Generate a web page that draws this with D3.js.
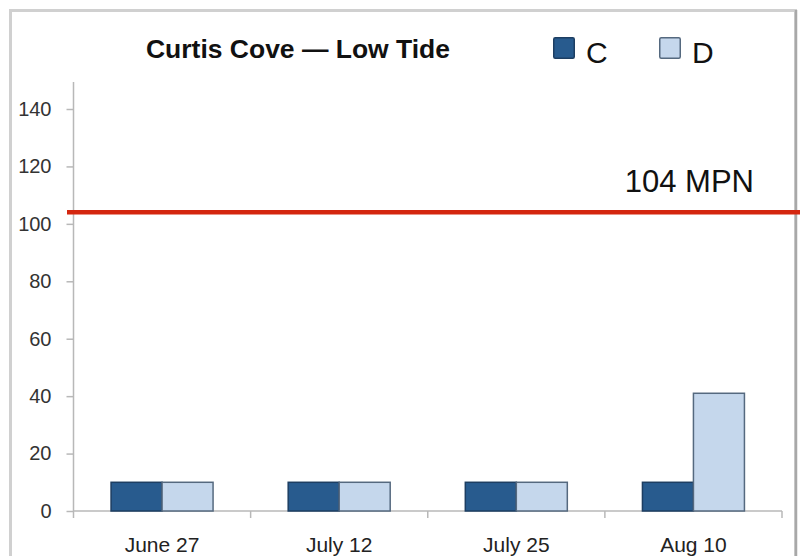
<!DOCTYPE html>
<html>
<head>
<meta charset="utf-8">
<script src="https://cdn.jsdelivr.net/npm/d3@7"></script>
<style>
  body { margin: 0; background: #fff; }
  svg { display: block; }
</style>
</head>
<body>
<script>
const dates = ["June 27", "July 12", "July 25", "Aug 10"];
const seriesNames = ["C", "D"];
const valuesC = [10, 10, 10, 10];
const valuesD = [10, 10, 10, 41];
const yTicks = [0, 20, 40, 60, 80, 100, 120, 140];
const threshold = 104;
const thresholdLabel = "104 MPN";
const title = "Curtis Cove \u2014 Low Tide";

const W = 800, H = 556;
const plot = { left: 73.5, right: 782, top: 82, bottom: 511 };

const fills = { C: "#285b8e", D: "#c5d7ec" };
const strokes = { C: "#1d3e62", D: "#55697f" };

const svg = d3.select("body").append("svg")
  .attr("width", W)
  .attr("height", H);

// chart frame
svg.append("rect")
  .attr("x", 10.5).attr("y", 10.5)
  .attr("width", 785).attr("height", 600)
  .attr("fill", "none")
  .attr("stroke", "#d0d0d0")
  .attr("stroke-width", 3);
svg.append("line")
  .attr("x1", 796).attr("x2", 796).attr("y1", 10).attr("y2", H)
  .attr("stroke", "#a8a8a8").attr("stroke-width", 2.5);

const x = d3.scaleBand()
  .domain(dates)
  .range([plot.left, plot.right]);

const groupW = 102;
const x1 = d3.scaleBand()
  .domain(seriesNames)
  .range([0, groupW]);

const y = d3.scaleLinear()
  .domain([0, 140])
  .range([plot.bottom, 109]);

// y axis
const yAxis = svg.append("g")
  .attr("transform", `translate(${plot.left},0)`)
  .call(d3.axisLeft(y).tickValues(yTicks).tickSize(7).tickPadding(15));
yAxis.select(".domain").remove();
yAxis.selectAll(".tick line").attr("stroke", "#b8b8b8").attr("stroke-width", 1.5);
yAxis.selectAll(".tick text")
  .attr("fill", "#333")
  .style("font-family", "'Liberation Sans', Arial, sans-serif")
  .style("font-size", "20px");
svg.append("line")
  .attr("x1", plot.left).attr("x2", plot.left)
  .attr("y1", plot.top).attr("y2", plot.bottom)
  .attr("stroke", "#b8b8b8").attr("stroke-width", 1.5);

// x axis line + boundary ticks
svg.append("line")
  .attr("x1", plot.left).attr("x2", plot.right)
  .attr("y1", plot.bottom).attr("y2", plot.bottom)
  .attr("stroke", "#b8b8b8").attr("stroke-width", 1.5);
const bounds = dates.map(d => x(d)).concat([x(dates[dates.length - 1]) + x.bandwidth()]);
svg.selectAll(".xtick")
  .data(bounds)
  .enter().append("line")
  .attr("x1", d => d).attr("x2", d => d)
  .attr("y1", plot.bottom).attr("y2", plot.bottom + 7)
  .attr("stroke", "#b8b8b8").attr("stroke-width", 1.5);

svg.selectAll(".xlabel")
  .data(dates)
  .enter().append("text")
  .attr("x", d => x(d) + x.bandwidth() / 2)
  .attr("y", 552)
  .attr("text-anchor", "middle")
  .attr("fill", "#222")
  .style("font-family", "'Liberation Sans', Arial, sans-serif")
  .style("font-size", "21px")
  .text(d => d);

// bars
const rows = dates.map((d, i) => ({ date: d, C: valuesC[i], D: valuesD[i] }));
const groups = svg.selectAll(".grp")
  .data(rows)
  .enter().append("g")
  .attr("transform", d => `translate(${x(d.date) + (x.bandwidth() - groupW) / 2},0)`);

groups.selectAll("rect")
  .data(d => seriesNames.map(k => ({ key: k, value: d[k] })))
  .enter().append("rect")
  .attr("x", d => x1(d.key))
  .attr("y", d => y(d.value))
  .attr("width", x1.bandwidth())
  .attr("height", d => y(0) - y(d.value))
  .attr("fill", d => fills[d.key])
  .attr("stroke", d => strokes[d.key])
  .attr("stroke-width", 1.5);

// threshold line
svg.append("line")
  .attr("x1", 67).attr("x2", W)
  .attr("y1", y(threshold)).attr("y2", y(threshold))
  .attr("stroke", "#d4260f")
  .attr("stroke-width", 4.5);
svg.append("text")
  .attr("x", 754).attr("y", 192)
  .attr("text-anchor", "end")
  .attr("fill", "#111")
  .style("font-family", "'Liberation Sans', Arial, sans-serif")
  .style("font-size", "31px")
  .text(thresholdLabel);

// title
svg.append("text")
  .attr("x", 146).attr("y", 58)
  .attr("textLength", 304)
  .attr("lengthAdjust", "spacingAndGlyphs")
  .attr("fill", "#111")
  .style("font-family", "'Liberation Sans Narrow', 'Liberation Sans', Arial, sans-serif")
  .style("font-weight", "bold")
  .style("font-size", "26px")
  .text(title);

// legend
const legendX = { C: 553, D: 659 };
const legend = svg.selectAll(".leg")
  .data(seriesNames)
  .enter().append("g")
  .attr("transform", d => `translate(${legendX[d]},37)`);
legend.append("rect")
  .attr("x", 0.75).attr("y", 0.75)
  .attr("width", 20.5).attr("height", 20.5)
  .attr("rx", 1.5)
  .attr("fill", d => fills[d])
  .attr("stroke", d => strokes[d])
  .attr("stroke-width", 1.5);
legend.append("text")
  .attr("x", 33).attr("y", 26)
  .attr("fill", "#111")
  .style("font-family", "'Liberation Sans Narrow', 'Liberation Sans', Arial, sans-serif")
  .style("font-size", "30px")
  .text(d => d);
</script>
</body>
</html>
